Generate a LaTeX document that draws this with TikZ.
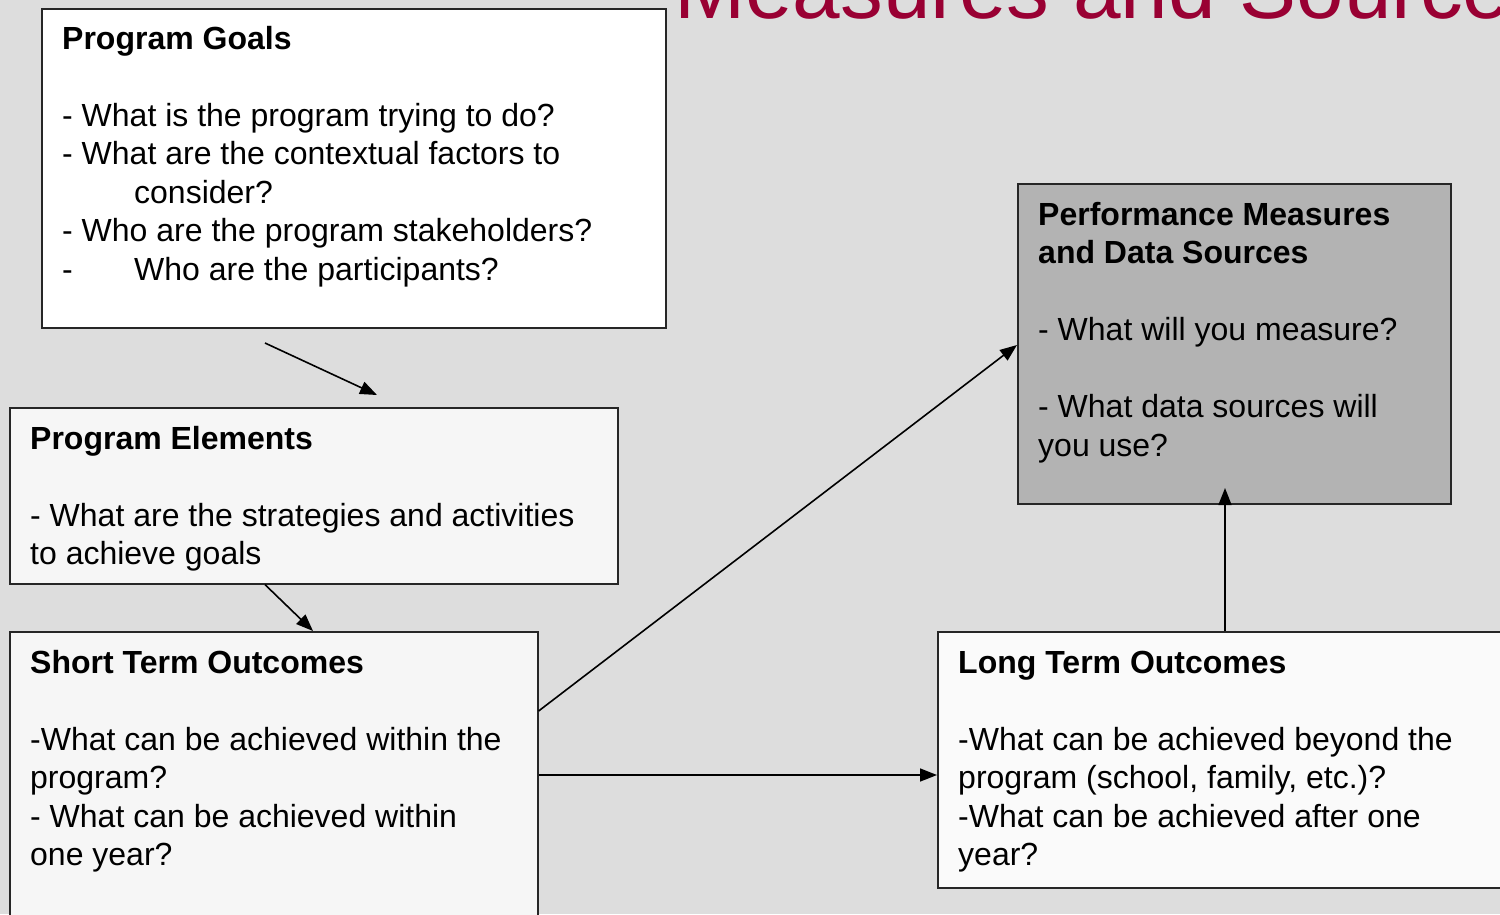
\documentclass[tikz,border=0pt]{standalone}
\usepackage{fontspec}
\setmainfont{Liberation Sans}
\usetikzlibrary{arrows.meta}
\definecolor{bgc}{HTML}{DDDDDD}
\definecolor{crimson}{HTML}{990033}
\definecolor{boxlight}{HTML}{F6F6F6}
\definecolor{boxgray}{HTML}{B3B3B3}
\newcommand{\boxtext}[1]{\parbox[t]{640pt}{\raggedright\fontsize{32pt}{38.5pt}\selectfont #1}}
\tikzset{
  panel/.style={draw=black!85, line width=1.6pt, rectangle, anchor=north west, inner sep=0pt},
  txt/.style={anchor=base west, inner sep=0pt, text=black},
  flow/.style={draw=black, line width=1.6pt, -{Triangle[length=17pt,width=13pt]}},
}
\begin{document}
\begin{tikzpicture}[x=1pt,y=-1pt]
\useasboundingbox (0,0) rectangle (1500,914);
\clip (0,0) rectangle (1500,914);
\fill[bgc] (0,0) rectangle (1500,914);

% title (cut off by the top edge)
\node[anchor=base west, inner sep=0pt, text=crimson, font=\fontsize{85.5pt}{90pt}\selectfont] (title) at (674,18.5) {Measures and Sources};

% boxes
\node[panel, fill=white, minimum width=624pt, minimum height=319pt] (goals) at (41,8) {};
\node[panel, fill=boxlight, minimum width=608pt, minimum height=176pt] (elements) at (9,407) {};
\node[panel, fill=boxlight, minimum width=528pt, minimum height=340pt] (short) at (9,631) {};
\node[panel, fill=boxlight!60!white, minimum width=620pt, minimum height=256pt] (long) at (937,631) {};
\node[panel, fill=boxgray, minimum width=433pt, minimum height=320pt] (perf) at (1017,183) {};

% texts
\node[txt] (goalstext) at (62,49) {\boxtext{\textbf{Program Goals}\\[38.5pt]
- What is the program trying to do?\\
- What are the contextual factors to\\
\hspace*{72pt}consider?\\
- Who are the program stakeholders?\\
\makebox[72pt][l]{-}Who are the participants?}};

\node[txt] (elementstext) at (30,449) {\boxtext{\textbf{Program Elements}\\[38.5pt]
- What are the strategies and activities\\
to achieve goals}};

\node[txt] (shorttext) at (30,673) {\boxtext{\textbf{Short Term Outcomes}\\[38.5pt]
-What can be achieved within the\\
program?\\
- What can be achieved within\\
one year?}};

\node[txt] (longtext) at (958,673) {\boxtext{\textbf{Long Term Outcomes}\\[38.5pt]
-What can be achieved beyond the\\
program (school, family, etc.)?\\
-What can be achieved after one\\
year?}};

\node[txt] (perftext) at (1038,225) {\boxtext{\textbf{Performance Measures}\\
\textbf{and Data Sources}\\[38.5pt]
- What will you measure?\\[38.5pt]
- What data sources will\\
you use?}};

% connector end points
\coordinate (a1s) at (265,343);
\coordinate (a1e) at (377,395);
\coordinate (a2s) at (elements.south -| 265,0);
\coordinate (a2e) at (short.north -| 313,0);
\coordinate (a3s) at (short.east |- 0,711);
\coordinate (a3e) at (perf.west |- 0,345);
\coordinate (a4s) at (short.east |- 0,775);
\coordinate (a4e) at (long.west |- 0,775);
\coordinate (a5s) at (long.north -| 1225,0);
\coordinate (a5e) at (1225,488);

\draw[flow] (a1s) -- (a1e);
\draw[flow] (a2s) -- (a2e);
\draw[flow] (a3s) -- (a3e);
\draw[flow] (a4s) -- (a4e);
\draw[flow] (a5s) -- (a5e);
\end{tikzpicture}
\end{document}
